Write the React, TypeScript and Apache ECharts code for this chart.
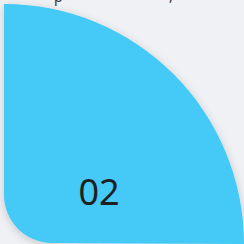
import React, { useEffect, useRef } from "react";
import * as echarts from "echarts";

const stepLabels: string[] = ["02"];
const captionPieces: string[] = ["p", ","];

const SHAPE_D = "M4,4 A240,240 0 0 1 244,244 L52,243 A48,48 0 0 1 4,195 Z";
echarts.graphic.registerShape("leafShape", echarts.graphic.extendPath(SHAPE_D, {}) as any);

export default function App() {
  const ref = useRef<HTMLDivElement>(null);
  useEffect(() => {
    document.body.style.margin = "0";
    const chart = echarts.init(ref.current!, undefined, { renderer: "svg" });
    chart.setOption({
      animation: false,
      backgroundColor: "#f0f1f4",
      graphic: [
        {
          type: "leafShape",
          x: 0,
          y: 0,
          scaleX: 1,
          scaleY: 1,
          style: {
            fill: "#44c9f6",
            shadowBlur: 8,
            shadowColor: "rgba(0,0,0,0.18)",
            shadowOffsetX: 0,
            shadowOffsetY: 2,
          },
        },
        {
          type: "text",
          x: 99,
          y: 191,
          style: {
            text: stepLabels[0],
            fill: "#1f1f1f",
            font: "36px 'Noto Sans'",
            textAlign: "center",
            textVerticalAlign: "middle",
          },
        },
        {
          type: "text",
          x: 54,
          y: -11,
          style: { text: captionPieces[0], fill: "#333", font: "14px 'Noto Sans'" },
        },
        {
          type: "text",
          x: 169,
          y: -12,
          style: { text: captionPieces[1], fill: "#333", font: "14px 'Noto Sans'" },
        },
      ],
    });
    return () => chart.dispose();
  }, []);
  return <div ref={ref} style={{ width: 244, height: 244 }} />;
}
